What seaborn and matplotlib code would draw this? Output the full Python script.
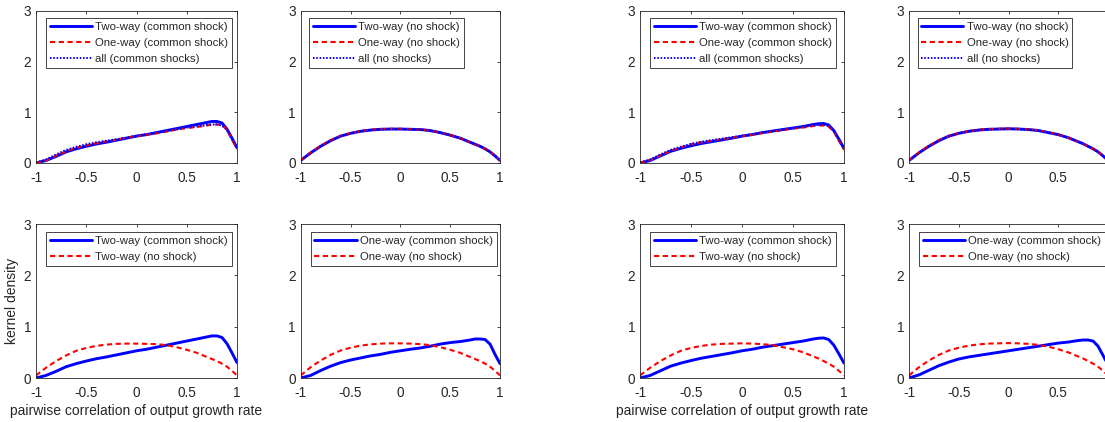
import numpy as np
import pandas as pd
import matplotlib
matplotlib.use("Agg")
import matplotlib.pyplot as plt
import seaborn as sns

# ---------------- data ----------------
x = [-1, -0.9, -0.8, -0.7, -0.6, -0.5, -0.4, -0.3, -0.2, -0.1, 0,
     0.1, 0.2, 0.3, 0.4, 0.5, 0.6, 0.7, 0.75, 0.8, 0.85, 0.9, 0.95, 1]

# left group of panels
two_way_cs_a = [0.00, 0.05, 0.13, 0.22, 0.28, 0.33, 0.375, 0.41, 0.45, 0.49, 0.53,
                0.56, 0.60, 0.64, 0.68, 0.72, 0.76, 0.80, 0.82, 0.82, 0.79, 0.67, 0.49, 0.30]
one_way_cs_a = [0.00, 0.05, 0.145, 0.23, 0.30, 0.35, 0.39, 0.43, 0.46, 0.50, 0.53,
                0.56, 0.585, 0.62, 0.66, 0.69, 0.71, 0.74, 0.76, 0.76, 0.75, 0.66, 0.46, 0.28]
all_cs_a = [0.01, 0.07, 0.17, 0.26, 0.32, 0.37, 0.41, 0.44, 0.47, 0.50, 0.54,
            0.57, 0.60, 0.63, 0.66, 0.70, 0.72, 0.75, 0.76, 0.76, 0.74, 0.65, 0.47, 0.29]
two_way_ns_a = [0.05, 0.20, 0.33, 0.44, 0.53, 0.585, 0.625, 0.65, 0.665, 0.67, 0.67,
                0.665, 0.66, 0.64, 0.60, 0.55, 0.49, 0.41, 0.37, 0.33, 0.28, 0.22, 0.14, 0.05]
one_way_ns_a = [0.05, 0.21, 0.34, 0.45, 0.535, 0.59, 0.63, 0.655, 0.67, 0.675, 0.675,
                0.67, 0.66, 0.64, 0.60, 0.55, 0.49, 0.41, 0.37, 0.33, 0.28, 0.22, 0.14, 0.05]
all_ns_a = [0.05, 0.205, 0.335, 0.445, 0.53, 0.59, 0.63, 0.65, 0.665, 0.672, 0.672,
            0.668, 0.66, 0.64, 0.60, 0.55, 0.49, 0.41, 0.37, 0.33, 0.28, 0.22, 0.14, 0.05]

# right group of panels
two_way_cs_b = [0.00, 0.05, 0.14, 0.23, 0.29, 0.34, 0.385, 0.42, 0.455, 0.49, 0.53,
                0.56, 0.60, 0.63, 0.66, 0.69, 0.72, 0.76, 0.775, 0.78, 0.75, 0.64, 0.47, 0.29]
one_way_cs_b = [0.00, 0.06, 0.15, 0.24, 0.31, 0.37, 0.41, 0.44, 0.47, 0.50, 0.53,
                0.56, 0.59, 0.62, 0.65, 0.68, 0.70, 0.73, 0.74, 0.74, 0.72, 0.62, 0.44, 0.26]
all_cs_b = [0.01, 0.07, 0.17, 0.26, 0.32, 0.38, 0.42, 0.45, 0.48, 0.51, 0.54,
            0.57, 0.60, 0.63, 0.66, 0.69, 0.71, 0.74, 0.75, 0.75, 0.73, 0.63, 0.45, 0.27]
two_way_ns_b = [0.05, 0.20, 0.33, 0.44, 0.53, 0.585, 0.625, 0.65, 0.665, 0.67, 0.675,
                0.67, 0.66, 0.64, 0.60, 0.56, 0.50, 0.42, 0.38, 0.33, 0.28, 0.22, 0.14, 0.05]
one_way_ns_b = [0.05, 0.21, 0.34, 0.45, 0.535, 0.59, 0.63, 0.655, 0.67, 0.675, 0.68,
                0.675, 0.665, 0.645, 0.61, 0.56, 0.50, 0.42, 0.38, 0.33, 0.28, 0.22, 0.14, 0.05]
all_ns_b = [0.05, 0.205, 0.335, 0.445, 0.53, 0.59, 0.63, 0.652, 0.667, 0.672, 0.677,
            0.672, 0.662, 0.642, 0.605, 0.56, 0.50, 0.42, 0.38, 0.33, 0.28, 0.22, 0.14, 0.05]

x_ticks = [-1, -0.5, 0, 0.5, 1]
x_tick_labels = ["-1", "-0.5", "0", "0.5", "1"]
y_ticks = [0, 1, 2, 3]
y_tick_labels = ["0", "1", "2", "3"]
x_label = "pairwise correlation of output growth rate"
y_label = "kernel density"

# ---------------- style ----------------
sns.set_style("white")
plt.rcParams["font.family"] = ["Liberation Sans", "DejaVu Sans"]
plt.rcParams["axes.unicode_minus"] = False

DARK = "#262626"
BLUE = "#0000FF"
RED = "#FF0000"
STY = {
    "solid": dict(color=BLUE, lw=2.1, ls="-"),
    "dash": dict(color=RED, lw=1.5, ls=(0, (2.5, 1.7))),
    "dot": dict(color=BLUE, lw=1.4, ls=(0, (0.8, 0.9))),
}

fig = plt.figure(figsize=(11.05, 4.22), dpi=100)
W, H = 1105.0, 422.0
cols = [(36, 237), (300.7, 500), (640, 844), (909, 1108)]
rows = [(11, 163), (224, 378)]


def make_ax(r, c):
    x0, x1 = cols[c]
    y0, y1 = rows[r]
    return fig.add_axes([x0 / W, 1 - y1 / H, (x1 - x0) / W, (y1 - y0) / H])


def draw(ax, series, legend_anchor, clip_last=False):
    for y, label, sty in series:
        df = pd.DataFrame({"x": x, "y": y})
        s = STY[sty]
        sns.lineplot(data=df, x="x", y="y", ax=ax, color=s["color"], linewidth=s["lw"],
                     linestyle=s["ls"], label=label, sort=False, estimator=None)
    ax.set_xlim(-1, 1)
    ax.set_ylim(0, 3)
    ax.set_xticks(x_ticks)
    labels = list(x_tick_labels)
    if clip_last:
        labels[-1] = ""  # falls outside the figure edge in the reference
    ax.set_xticklabels(labels)
    ax.set_yticks(y_ticks)
    ax.set_yticklabels(y_tick_labels)
    ax.set_xlabel("")
    ax.set_ylabel("")
    for sp in ax.spines.values():
        sp.set_visible(True)
        sp.set_color(DARK)
        sp.set_linewidth(0.6)
    ax.tick_params(direction="in", length=2.2, width=0.6, colors=DARK, labelsize=9.8,
                   top=True, right=True)
    ax.tick_params(axis="x", pad=5.5)
    ax.tick_params(axis="y", pad=3.5)
    for lab in ax.get_xticklabels() + ax.get_yticklabels():
        lab.set_color(DARK)
    leg = ax.legend(loc="upper left", bbox_to_anchor=legend_anchor, borderaxespad=0,
                    fontsize=8.2, frameon=True, fancybox=False, framealpha=1,
                    edgecolor=DARK, handlelength=3.7, handletextpad=0.28,
                    borderpad=0.33, labelspacing=0.53)
    leg.get_frame().set_linewidth(0.6)
    for t in leg.get_texts():
        t.set_color(DARK)


groups = [
    (two_way_cs_a, one_way_cs_a, all_cs_a, two_way_ns_a, one_way_ns_a, all_ns_a),
    (two_way_cs_b, one_way_cs_b, all_cs_b, two_way_ns_b, one_way_ns_b, all_ns_b),
]

for g, (tcs, ocs, acs, tns, ons, ans) in enumerate(groups):
    c0 = 2 * g
    last = g == 1
    ax = make_ax(0, c0)
    draw(ax, [(tcs, "Two-way (common shock)", "solid"),
              (ocs, "One-way (common shock)", "dash"),
              (acs, "all (common shocks)", "dot")], (0.05, 0.954))
    ax = make_ax(0, c0 + 1)
    draw(ax, [(tns, "Two-way (no shock)", "solid"),
              (ons, "One-way (no shock)", "dash"),
              (ans, "all (no shocks)", "dot")], (0.043, 0.954), clip_last=last)
    ax = make_ax(1, c0)
    draw(ax, [(tcs, "Two-way (common shock)", "solid"),
              (tns, "Two-way (no shock)", "dash")], (0.05, 0.946))
    ax.set_xlabel(x_label, fontsize=10, color=DARK, labelpad=3)
    if g == 0:
        ax.set_ylabel(y_label, fontsize=10, color=DARK, labelpad=3)
    ax = make_ax(1, c0 + 1)
    draw(ax, [(ocs, "One-way (common shock)", "solid"),
              (ons, "One-way (no shock)", "dash")], (0.05, 0.946), clip_last=last)

fig.savefig("out.png", dpi=100)
